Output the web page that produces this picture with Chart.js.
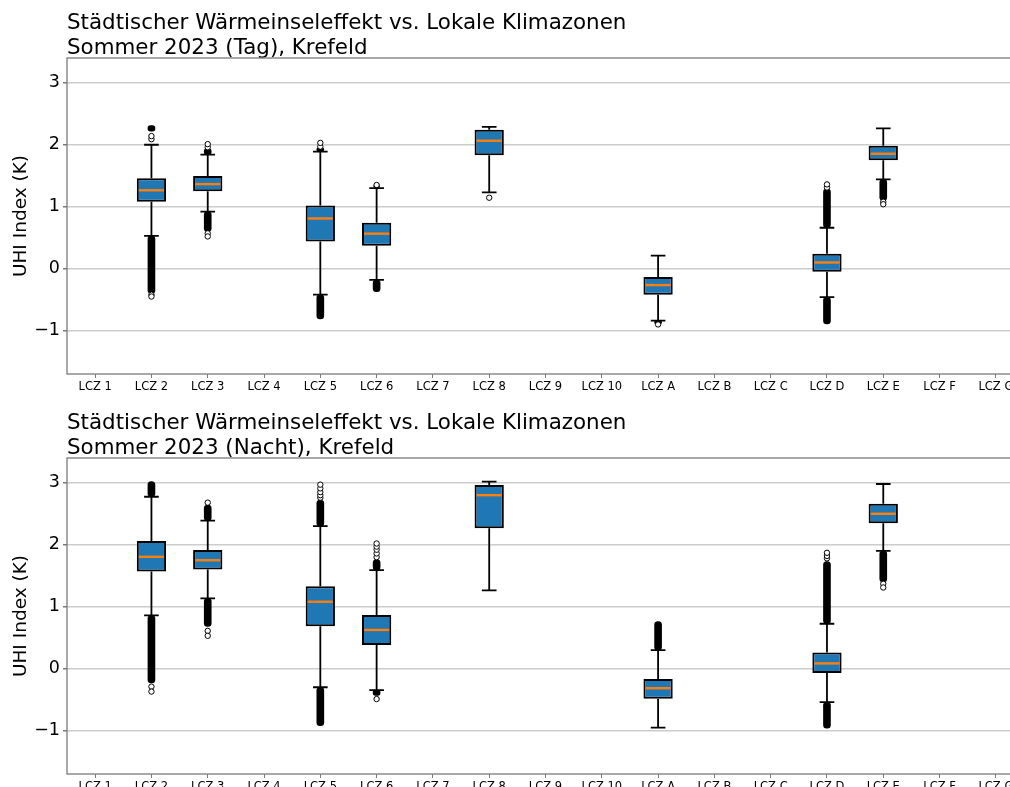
<!DOCTYPE html>
<html lang="de">
<head>
<meta charset="utf-8">
<title>UHI vs. LCZ – Krefeld Sommer 2023</title>
<script src="https://cdn.jsdelivr.net/npm/chart.js@4/dist/chart.umd.min.js"></script>
<style>
  html, body { margin: 0; padding: 0; background: #ffffff; overflow: hidden; }
  body { width: 1010px; height: 787px; position: relative; }
  canvas { position: absolute; left: 0; }
  #dayChart { top: 0; }
  #nightChart { top: 400px; }
</style>
</head>
<body>
<canvas id="dayChart" width="1040" height="400"></canvas>
<canvas id="nightChart" width="1040" height="400"></canvas>
<script>
// Local climate zone categories
const zoneLabels = ['LCZ 1', 'LCZ 2', 'LCZ 3', 'LCZ 4', 'LCZ 5', 'LCZ 6', 'LCZ 7', 'LCZ 8', 'LCZ 9', 'LCZ 10',
                    'LCZ A', 'LCZ B', 'LCZ C', 'LCZ D', 'LCZ E', 'LCZ F', 'LCZ G'];
const yTickValues = [-1, 0, 1, 2, 3];
const yRange = [-1.70, 3.40];

const dayTitle = ['Städtischer Wärmeinseleffekt vs. Lokale Klimazonen', 'Sommer 2023 (Tag), Krefeld'];
const nightTitle = ['Städtischer Wärmeinseleffekt vs. Lokale Klimazonen', 'Sommer 2023 (Nacht), Krefeld'];

// Daytime box statistics (K), one entry per zone, null = no pixels
//                  1     2      3      4     5      6      7     8      9     10    A       B     C     D      E      F     G
const dayWhiskerLow = [null, 0.53, 0.92,  null, -0.42, -0.18, null, 1.23,  null, null, -0.84,  null, null, -0.46, 1.44,  null, null];
const dayQ1         = [null, 1.08, 1.25,  null, 0.44,  0.37,  null, 1.83,  null, null, -0.42,  null, null, -0.05, 1.75,  null, null];
const dayMedian     = [null, 1.265, 1.365, null, 0.81, 0.565, null, 2.065, null, null, -0.265, null, null, 0.10,  1.855, null, null];
const dayQ3         = [null, 1.46, 1.495, null, 1.02,  0.74,  null, 2.24,  null, null, -0.135, null, null, 0.24,  1.985, null, null];
const dayWhiskerHigh= [null, 2.00, 1.84,  null, 1.89,  1.30,  null, 2.29,  null, null, 0.21,   null, null, 0.66,  2.265, null, null];
// Densely packed outliers (value ranges) below and above the whiskers
const dayLowRuns  = [null, [-0.40, 0.53], [0.60, 0.92], null, [-0.81, -0.42], [-0.37, -0.18], null, null, null, null,
                     [-0.89, -0.84], null, null, [-0.89, -0.46], [1.10, 1.44], null, null];
const dayHighRuns = [null, [2.22, 2.31], [1.84, 1.94], null, [1.89, 1.95], null, null, null, null, null,
                     null, null, null, [0.66, 1.29], null, null, null];
// Isolated outliers: [zone index, value]
const dayFliers = [[1, 2.09], [1, 2.14], [1, -0.42], [1, -0.45], [2, 1.96], [2, 2.01], [2, 0.57], [2, 0.52],
                   [4, 1.97], [4, 2.03], [5, 1.33], [5, 1.35], [7, 1.145], [10, -0.90], [13, 1.31], [13, 1.36],
                   [14, 1.08], [14, 1.04]];

// Night-time box statistics (K)
const nightWhiskerLow = [null, 0.86,  1.135, null, -0.30, -0.345, null, 1.265, null, null, -0.95,  null, null, -0.54, 1.90, null, null];
const nightQ1         = [null, 1.57,  1.60,  null, 0.685, 0.38,   null, 2.265, null, null, -0.485, null, null, -0.07, 2.345, null, null];
const nightMedian     = [null, 1.805, 1.75,  null, 1.08,  0.625,  null, 2.80,  null, null, -0.315, null, null, 0.085, 2.50, null, null];
const nightQ3         = [null, 2.06,  1.915, null, 1.33,  0.865,  null, 2.965, null, null, -0.165, null, null, 0.26,  2.66, null, null];
const nightWhiskerHigh= [null, 2.775, 2.39,  null, 2.30,  1.59,   null, 3.02,  null, null, 0.30,   null, null, 0.725, 2.98, null, null];
const nightLowRuns  = [null, [-0.23, 0.86], [0.68, 1.135], null, [-0.92, -0.30], [-0.43, -0.345], null, null, null, null,
                       null, null, null, [-0.96, -0.54], [1.40, 1.90], null, null];
const nightHighRuns = [null, [2.775, 3.02], [2.39, 2.64], null, [2.30, 2.72], [1.59, 1.76], null, null, null, null,
                       [0.30, 0.76], null, null, [0.725, 1.73], null, null, null];
const nightFliers = [[1, -0.29], [1, -0.37], [2, 2.68], [2, 0.61], [2, 0.53],
                     [4, 2.76], [4, 2.80], [4, 2.85], [4, 2.91], [4, 2.97],
                     [5, 1.80], [5, 1.86], [5, 1.92], [5, 1.97], [5, 2.02], [5, -0.49],
                     [13, 1.78], [13, 1.82], [13, 1.87], [14, 1.37], [14, 1.31]];

Chart.defaults.font.family = '"DejaVu Sans", sans-serif';
Chart.defaults.color = '#000000';

const BOX_BLUE = '#1f77b4';
const MEDIAN_ORANGE = '#ff7f0e';
const SPINE_GREY = '#7a7a7a';

// Two-line title, left-aligned with the plot area
const headlinePlugin = {
  id: 'headline',
  afterDraw(chart, args, opts) {
    const ctx = chart.ctx;
    ctx.save();
    ctx.font = '21.4px "DejaVu Sans"';
    ctx.fillStyle = '#000000';
    ctx.textAlign = 'left';
    ctx.textBaseline = 'alphabetic';
    opts.lines.forEach((line, i) => ctx.fillText(line, chart.chartArea.left, 29 + i * 24.5));
    ctx.restore();
  }
};

// Frame around the plot area (all four spines)
const framePlugin = {
  id: 'frame',
  afterDraw(chart) {
    const { ctx, chartArea: a } = chart;
    ctx.save();
    ctx.strokeStyle = SPINE_GREY;
    ctx.lineWidth = 1.3;
    ctx.strokeRect(a.left, a.top, a.right - a.left, a.bottom - a.top);
    ctx.restore();
  }
};

// Whiskers, caps and median lines, placed through the chart scales
const boxLinesPlugin = {
  id: 'boxLines',
  afterDatasetsDraw(chart, args, opts) {
    const { ctx, scales: { x, y } } = chart;
    const step = x.getPixelForValue(1) - x.getPixelForValue(0);
    const boxHalf = step * 0.25;
    const capHalf = step * 0.13;
    ctx.save();
    ctx.lineCap = 'butt';
    opts.median.forEach((m, i) => {
      if (m === null) return;
      const cx = x.getPixelForValue(i);
      const yLo = y.getPixelForValue(opts.whiskerLow[i]);
      const yQ1 = y.getPixelForValue(opts.q1[i]);
      const yQ3 = y.getPixelForValue(opts.q3[i]);
      const yHi = y.getPixelForValue(opts.whiskerHigh[i]);
      ctx.strokeStyle = '#000000';
      ctx.lineWidth = 1.8;
      ctx.beginPath();
      ctx.moveTo(cx, yQ1); ctx.lineTo(cx, yLo);
      ctx.moveTo(cx, yQ3); ctx.lineTo(cx, yHi);
      ctx.moveTo(cx - capHalf, yLo); ctx.lineTo(cx + capHalf, yLo);
      ctx.moveTo(cx - capHalf, yHi); ctx.lineTo(cx + capHalf, yHi);
      ctx.stroke();
      const yM = y.getPixelForValue(m);
      ctx.strokeStyle = MEDIAN_ORANGE;
      ctx.lineWidth = 2.4;
      ctx.beginPath();
      ctx.moveTo(cx - boxHalf + 1.5, yM); ctx.lineTo(cx + boxHalf - 1.5, yM);
      ctx.stroke();
    });
    ctx.restore();
  }
};

function buildChart(canvasId, title, s) {
  const boxes = s.q1.map((v, i) => (v === null ? null : [v, s.q3[i]]));
  return new Chart(document.getElementById(canvasId), {
    type: 'bar',
    data: {
      labels: zoneLabels,
      datasets: [
        {
          label: 'IQR',
          data: boxes,
          backgroundColor: BOX_BLUE,
          borderColor: '#000000',
          borderWidth: 2,
          borderSkipped: false,
          categoryPercentage: 1.0,
          barPercentage: 0.52,
          grouped: false,
          order: 3
        },
        {
          label: 'Ausreißer unten',
          data: s.lowRuns,
          backgroundColor: '#000000',
          borderWidth: 0,
          barThickness: 7,
          borderRadius: 3.5,
          borderSkipped: false,
          grouped: false,
          order: 2
        },
        {
          label: 'Ausreißer oben',
          data: s.highRuns,
          backgroundColor: '#000000',
          borderWidth: 0,
          barThickness: 7,
          borderRadius: 3.5,
          borderSkipped: false,
          grouped: false,
          order: 2
        },
        {
          type: 'scatter',
          label: 'Einzelne Ausreißer',
          data: s.fliers.map(([c, v]) => ({ x: zoneLabels[c], y: v })),
          pointStyle: 'circle',
          pointRadius: 2.7,
          pointBorderWidth: 1,
          pointBorderColor: '#000000',
          pointBackgroundColor: '#ffffff',
          order: 1
        }
      ]
    },
    options: {
      responsive: false,
      animation: false,
      events: [],
      layout: { padding: { top: 58, right: 16, left: 0, bottom: 0 } },
      plugins: {
        legend: { display: false },
        tooltip: { enabled: false },
        headline: { lines: title },
        boxLines: {
          whiskerLow: s.whiskerLow, q1: s.q1, median: s.median, q3: s.q3, whiskerHigh: s.whiskerHigh
        }
      },
      scales: {
        x: {
          type: 'category',
          offset: true,
          grid: {
            display: true,
            drawOnChartArea: false,
            drawTicks: true,
            tickLength: 4,
            tickColor: SPINE_GREY,
            offset: false
          },
          border: { display: false },
          ticks: {
            font: { size: 11.5 },
            color: '#000000',
            padding: 2,
            maxRotation: 0,
            autoSkip: false
          },
          afterFit(scale) { scale.height = 26; }
        },
        y: {
          type: 'linear',
          min: yRange[0],
          max: yRange[1],
          afterBuildTicks(scale) { scale.ticks = yTickValues.map(v => ({ value: v })); },
          grid: {
            color: '#cccccc',
            lineWidth: 1.5,
            drawTicks: true,
            tickLength: 4,
            tickColor: SPINE_GREY
          },
          border: { display: false },
          ticks: {
            font: { size: 17.5 },
            color: '#000000',
            padding: 3,
            callback: v => (v < 0 ? '\u2212' + Math.abs(v) : String(v))
          },
          title: {
            display: true,
            text: 'UHI Index (K)',
            font: { size: 18.5 },
            color: '#000000',
            padding: { top: 10, bottom: 0 }
          },
          afterFit(scale) { scale.width = 67; }
        }
      }
    },
    plugins: [headlinePlugin, framePlugin, boxLinesPlugin]
  });
}

buildChart('dayChart', dayTitle, {
  whiskerLow: dayWhiskerLow, q1: dayQ1, median: dayMedian, q3: dayQ3, whiskerHigh: dayWhiskerHigh,
  lowRuns: dayLowRuns, highRuns: dayHighRuns, fliers: dayFliers
});
buildChart('nightChart', nightTitle, {
  whiskerLow: nightWhiskerLow, q1: nightQ1, median: nightMedian, q3: nightQ3, whiskerHigh: nightWhiskerHigh,
  lowRuns: nightLowRuns, highRuns: nightHighRuns, fliers: nightFliers
});
</script>
</body>
</html>
